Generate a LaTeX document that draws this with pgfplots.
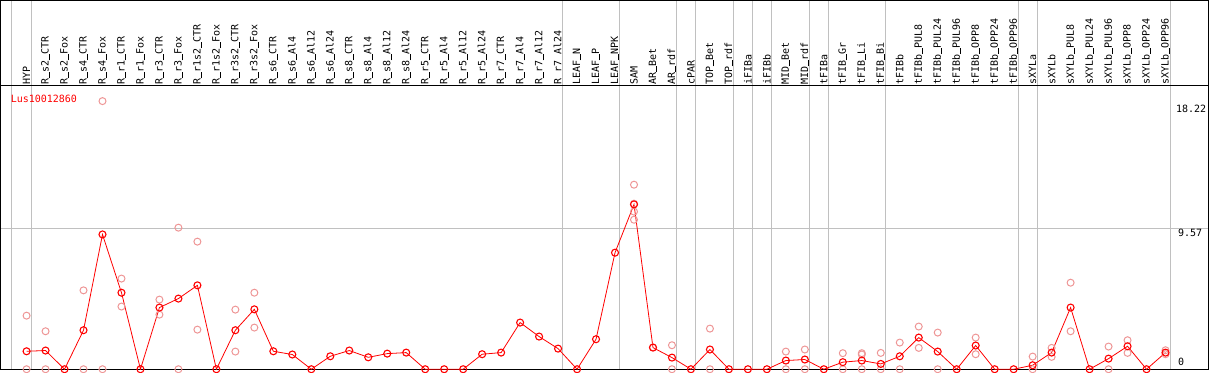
\documentclass[border=0pt]{standalone}
\usepackage{fontspec}
\setmonofont{DejaVu Sans Mono}
\usepackage{pgfplots}
\pgfplotsset{compat=1.18}
\definecolor{gridgray}{RGB}{192,192,192}
\definecolor{faded}{RGB}{238,150,150}
\newcommand{\US}{\rule[-0.12em]{0.6em}{0.09em}}
\begin{document}
\begin{tikzpicture}
\begin{axis}[
 scale only axis, width=1209pt, height=369pt,
 xmin=-1.368, xmax=62.26, ymin=0, ymax=25.05,
 axis line style={black, line width=1.2pt},
 xtick={0,...,60},
 xticklabels={HYP,R\US s2\US CTR,R\US s2\US Fox,R\US s4\US CTR,R\US s4\US Fox,R\US r1\US CTR,R\US r1\US Fox,R\US r3\US CTR,R\US r3\US Fox,R\US r1s2\US CTR,R\US r1s2\US Fox,R\US r3s2\US CTR,R\US r3s2\US Fox,R\US s6\US CTR,R\US s6\US Al4,R\US s6\US Al12,R\US s6\US Al24,R\US s8\US CTR,R\US s8\US Al4,R\US s8\US Al12,R\US s8\US Al24,R\US r5\US CTR,R\US r5\US Al4,R\US r5\US Al12,R\US r5\US Al24,R\US r7\US CTR,R\US r7\US Al4,R\US r7\US Al12,R\US r7\US Al24,LEAF\US N,LEAF\US P,LEAF\US NPK,SAM,AR\US Bet,AR\US rdf,cPAR,TOP\US Bet,TOP\US rdf,iFIBa,iFIBb,MID\US Bet,MID\US rdf,tFIBa,tFIB\US Gr,tFIB\US Li,tFIB\US Bi,tFIBb,tFIBb\US PUL8,tFIBb\US PUL24,tFIBb\US PUL96,tFIBb\US OPP8,tFIBb\US OPP24,tFIBb\US OPP96,sXYLa,sXYLb,sXYLb\US PUL8,sXYLb\US PUL24,sXYLb\US PUL96,sXYLb\US OPP8,sXYLb\US OPP24,sXYLb\US OPP96},
 xticklabel pos=upper,
 xticklabel shift=-84pt,
 xticklabel style={rotate=90, anchor=west, inner sep=0pt, font=\ttfamily\fontsize{10}{10}\selectfont},
 major tick length=0pt,
 ytick={9.57}, yticklabels={}, ymajorgrids,
 yticklabel style={overlay, inner sep=0pt},
 grid style={gridgray, line width=0.8pt},
 extra x ticks={-0.81,0.25,28.25,31.25,34.25,35.25,37.25,38.25,39.25,41.25,42.25,45.25,52.25,53.25,60.25},
 extra x tick labels={},
 extra x tick style={grid=major, grid style={gridgray, line width=0.8pt}, xticklabel style={overlay}},
 extra y ticks={19.28},
 extra y tick labels={},
 extra y tick style={grid=major, grid style={black, line width=1.2pt}, yticklabel style={overlay}},
 clip=true,
]
\addplot[only marks, mark=o, mark size=3.5pt, color=faded, mark options={line width=1pt}] coordinates {
(0,3.64)(0,0)(1,2.58)(1,0)(3,5.36)(3,0)(4,18.22)(4,0)(5,6.16)(5,4.26)
(7,4.73)(7,3.71)(8,9.62)(8,0)(9,8.67)(9,2.69)(11,4.05)(11,1.20)(12,5.20)(12,2.83)
(32,12.54)(32,11.25)(32,10.71)(32,10.16)(33,1.49)(34,1.63)(34,0)(36,2.76)(36,0)
(40,1.20)(40,0)(41,1.34)(41,0)(43,1.09)(43,0)(44,1.09)(44,1.0)(44,0)(45,1.11)(45,0)
(46,1.81)(46,0)(47,2.90)(47,1.45)(48,2.49)(48,0)(50,2.15)(50,1.02)(53,0.86)(53,0)
(54,1.45)(54,0.84)(55,5.88)(55,2.58)(57,1.54)(57,0)(58,1.97)(58,1.11)(60,1.29)(60,1.02)
};
\addplot[red, line width=0.8pt, mark=o, mark size=3.5pt, mark options={line width=1.1pt}] coordinates {
(0,1.22)(1,1.27)(2,0)(3,2.65)(4,9.16)(5,5.20)(6,0)(7,4.19)(8,4.80)(9,5.70)
(10,0)(11,2.65)(12,4.07)(13,1.22)(14,1.00)(15,0)(16,0.88)(17,1.27)(18,0.81)(19,1.06)
(20,1.13)(21,0)(22,0)(23,0)(24,1.02)(25,1.13)(26,3.17)(27,2.22)(28,1.40)(29,0)
(30,2.04)(31,7.92)(32,11.20)(33,1.47)(34,0.79)(35,0)(36,1.34)(37,0)(38,0)(39,0)
(40,0.59)(41,0.66)(42,0)(43,0.48)(44,0.59)(45,0.36)(46,0.88)(47,2.15)(48,1.20)(49,0)
(50,1.61)(51,0)(52,0)(53,0.27)(54,1.13)(55,4.19)(56,0)(57,0.72)(58,1.56)(59,0)
(60,1.13)
};
\node[anchor=west, text=red, font=\ttfamily\fontsize{10}{10}\selectfont, inner sep=0pt] at (axis cs:-0.842,18.4) {Lus10012860};
\node[anchor=west, font=\ttfamily\fontsize{10}{10}\selectfont, inner sep=0pt] at (axis cs:60.55,17.72) {18.22};
\node[anchor=west, font=\ttfamily\fontsize{10}{10}\selectfont, inner sep=0pt] at (axis cs:60.65,9.30) {9.57};
\node[anchor=west, font=\ttfamily\fontsize{10}{10}\selectfont, inner sep=0pt] at (axis cs:60.65,0.475) {0};
\end{axis}
\end{tikzpicture}
\end{document}
